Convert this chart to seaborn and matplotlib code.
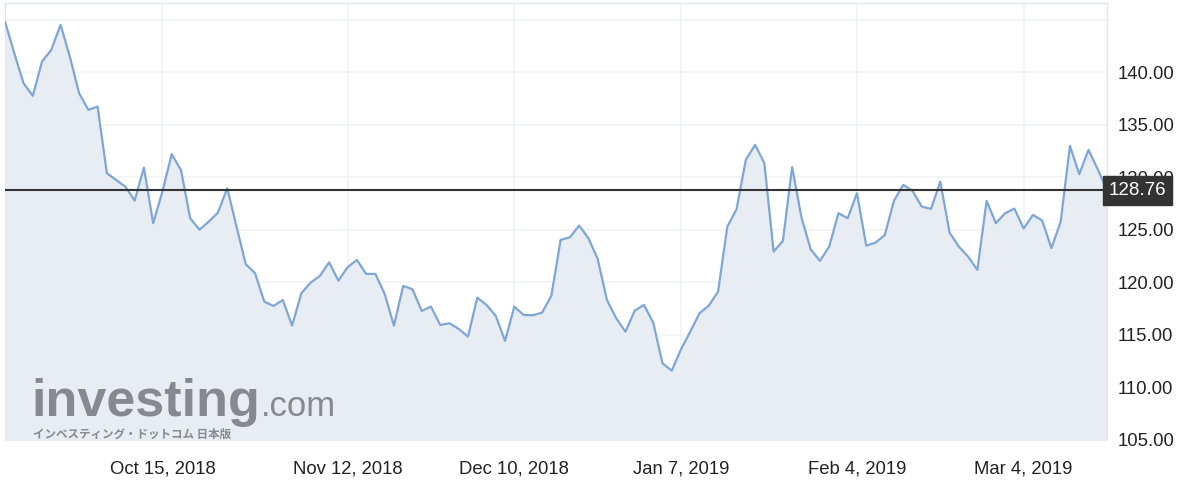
import matplotlib
matplotlib.use("Agg")
import matplotlib.pyplot as plt
import seaborn as sns
import pandas as pd
import numpy as np

# ---- data ----
prices = [
    144.84, 141.83, 138.97, 137.76, 141.03, 142.14, 144.52, 141.50, 138.02, 136.43,
    136.74, 130.40, 129.76, 129.12, 127.79, 130.93, 125.64, 128.65, 132.21, 130.71,
    126.10, 125.02, 125.79, 126.65, 128.97, 125.31, 121.73, 120.88, 118.17, 117.76,
    118.33, 115.89, 118.97, 119.98, 120.62, 121.92, 120.17, 121.45, 122.14, 120.81,
    120.81, 118.90, 115.89, 119.67, 119.35, 117.29, 117.70, 115.95, 116.11, 115.57,
    114.84, 118.55, 117.86, 116.81, 114.43, 117.70, 116.90, 116.88, 117.12, 118.74,
    124.05, 124.30, 125.41, 124.21, 122.24, 118.33, 116.59, 115.31, 117.31, 117.86,
    116.17, 112.30, 111.60, 113.64, 115.31, 117.07, 117.79, 119.12, 125.31, 126.97,
    131.67, 133.10, 131.35, 122.93, 123.95, 130.97, 126.21, 123.16, 122.05, 123.41,
    126.59, 126.11, 128.50, 123.50, 123.79, 124.50, 127.79, 129.29, 128.71, 127.22,
    127.00, 129.60, 124.74, 123.41, 122.46, 121.19, 127.76, 125.64, 126.59, 127.03,
    125.12, 126.43, 125.89, 123.26, 125.79, 133.00, 130.30, 132.62, 130.78, 128.76,
]
last_price = 128.76
tick_labels = ["Oct 15, 2018", "Nov 12, 2018", "Dec 10, 2018",
               "Jan 7, 2019", "Feb 4, 2019", "Mar 4, 2019"]
tick_index = [17, 37, 55, 73, 92, 110]
y_ticks = [105, 110, 115, 120, 125, 130, 135, 140]
y_grid = [110, 115, 120, 125, 130, 135, 140, 145]

df = pd.DataFrame({"idx": np.arange(len(prices)), "price": prices})

sns.set_style("white")
plt.rcParams["font.family"] = ["Liberation Sans", "DejaVu Sans"]

W, H = 1200, 496
fig = plt.figure(figsize=(W / 100, H / 100), dpi=100)
ax = fig.add_axes([5 / W, 1 - 440 / H, (1107 - 5) / W, (440 - 3) / H])

line_color = "#7ea6d6"
fill_color = "#e8edf3"

ax.fill_between(df["idx"], df["price"], 100, color=fill_color, lw=0, zorder=1)
sns.lineplot(data=df, x="idx", y="price", ax=ax, color=line_color, lw=1.6, zorder=3)

ax.set_xlim(0, len(prices) - 1)
ax.set_ylim(105, 146.6)

# grid
for g in y_grid:
    ax.axhline(g, color="#f1f2f4", lw=1.2, zorder=0.5)
for t in tick_index:
    ax.axvline(t, color="#f1f2f4", lw=1.2, zorder=0.5)

# watermark
ax.text(0.024, 0.054, "investing", transform=ax.transAxes, fontsize=37.5,
        fontweight="bold", color="#7b7f84", alpha=0.9, zorder=2)
ax.text(0.232, 0.054, ".com", transform=ax.transAxes, fontsize=25,
        color="#7b7f84", alpha=0.9, zorder=2)
ax.text(0.025, 0.004, "インベスティング・ドットコム 日本版", transform=ax.transAxes,
        fontsize=8.3, fontweight="bold", color="#7b7f84", alpha=0.9, zorder=2,
        family=["Noto Sans CJK JP", "DejaVu Sans"])

# last price line
ax.axhline(last_price, color="#333333", lw=1.5, zorder=4)
ax.annotate(f"{last_price:.2f}", xy=(1.0, last_price),
            xycoords=("axes fraction", "data"), xytext=(1.5, 0),
            textcoords="offset points", ha="left", va="center",
            fontsize=13.5, color="white", annotation_clip=False, zorder=10,
            bbox=dict(boxstyle="square,pad=0.3", fc="#333333", ec="#333333"))

# axes styling
ax.yaxis.tick_right()
ax.set_yticks(y_ticks)
ax.set_yticklabels([f"{v:.2f}" for v in y_ticks])
ax.set_xticks(tick_index)
ax.set_xticklabels(tick_labels)
ax.tick_params(axis="y", length=0, pad=8, labelsize=13.3, colors="#222222")
ax.tick_params(axis="x", length=0, pad=15, labelsize=13.3, colors="#222222")
ax.set_xlabel("")
ax.set_ylabel("")
for s in ax.spines.values():
    s.set_color("#e4e6ea")
    s.set_linewidth(1)
ax.spines["bottom"].set_visible(False)

fig.savefig("out.png", dpi=100, facecolor="white")
